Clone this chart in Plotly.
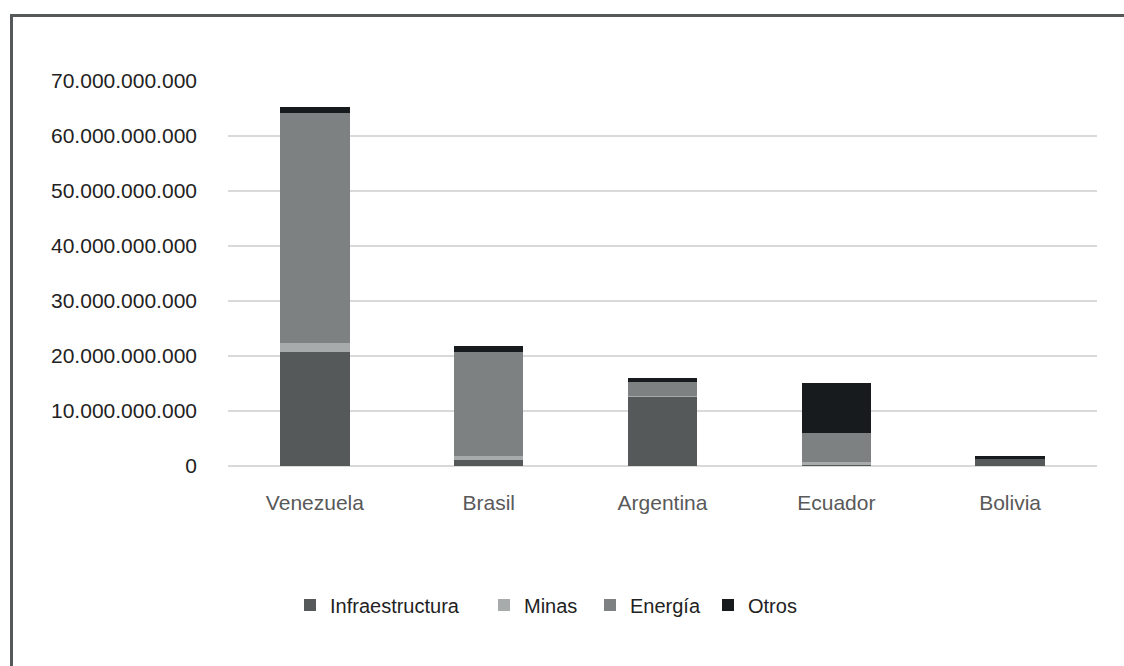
import plotly.graph_objects as go

countries = ["Venezuela", "Brasil", "Argentina", "Ecuador", "Bolivia"]
infraestructura = [20.7e9, 1.1e9, 12.7e9, 0.15e9, 1.3e9]
minas = [1.7e9, 0.7e9, 0.1e9, 0.5e9, 0.0]
energia = [41.8e9, 18.9e9, 2.5e9, 5.3e9, 0.05e9]
otros = [1.0e9, 1.1e9, 0.6e9, 9.2e9, 0.5e9]

series_names = ["Infraestructura", "Minas", "Energía", "Otros"]
series_colors = ["#555959", "#A8ABAB", "#7D8181", "#181B1D"]

tick_vals = [0, 10e9, 20e9, 30e9, 40e9, 50e9, 60e9, 70e9]
tick_text = ["0", "10.000.000.000", "20.000.000.000", "30.000.000.000",
             "40.000.000.000", "50.000.000.000", "60.000.000.000", "70.000.000.000"]

FONT = "Liberation Sans Narrow, Arial Narrow, Liberation Sans, Arial, sans-serif"

L, R, T, B = 228, 27, 80, 200
W, H = 1124, 666
pw, ph = W - L - R, H - T - B

def px(x):
    return (x - L) / pw

def py(y):
    return (H - B - y) / ph

legend_ids = ["legend", "legend2", "legend3", "legend4"]
legend_left = [290, 484, 590, 708]

fig = go.Figure()
for name, vals, col, lid in zip(series_names, [infraestructura, minas, energia, otros],
                                series_colors, legend_ids):
    fig.add_trace(go.Bar(x=countries, y=vals, name=name, legend=lid, showlegend=True,
                         marker=dict(color=col, line=dict(width=0))))

legend_layout = {}
for lid, lx in zip(legend_ids, legend_left):
    legend_layout[lid] = dict(orientation="h", x=px(lx), xanchor="left", y=py(605),
                              yanchor="middle", bgcolor="rgba(0,0,0,0)",
                              font=dict(size=20, color="#222222"))

fig.update_layout(
    width=W, height=H,
    showlegend=True,
    barmode="stack", bargap=0.6,
    plot_bgcolor="white", paper_bgcolor="white",
    margin=dict(l=L, r=R, t=T, b=B, autoexpand=False),
    font=dict(family=FONT, size=21, color="#222222"),
    xaxis=dict(showgrid=False, showline=False, zeroline=False,
               tickfont=dict(size=21, color="#595959"), ticklabelstandoff=22),
    yaxis=dict(range=[0, 70.12e9], tickvals=tick_vals, ticktext=tick_text,
               showgrid=True, gridcolor="#D9D9D9", gridwidth=2,
               zeroline=True, zerolinecolor="#D9D9D9", zerolinewidth=2,
               showline=False, ticklabelstandoff=30,
               tickfont=dict(size=21, color="#222222")),
    shapes=[
        dict(type="line", xref="paper", yref="paper", x0=px(11.5), x1=px(11.5),
             y0=py(15.5), y1=py(H + 5), line=dict(color="#555959", width=3)),
        dict(type="line", xref="paper", yref="paper", x0=px(10), x1=px(W + 5),
             y0=py(15.5), y1=py(15.5), line=dict(color="#555959", width=3)),
    ],
    **legend_layout,
)

fig.write_html("out.html")
